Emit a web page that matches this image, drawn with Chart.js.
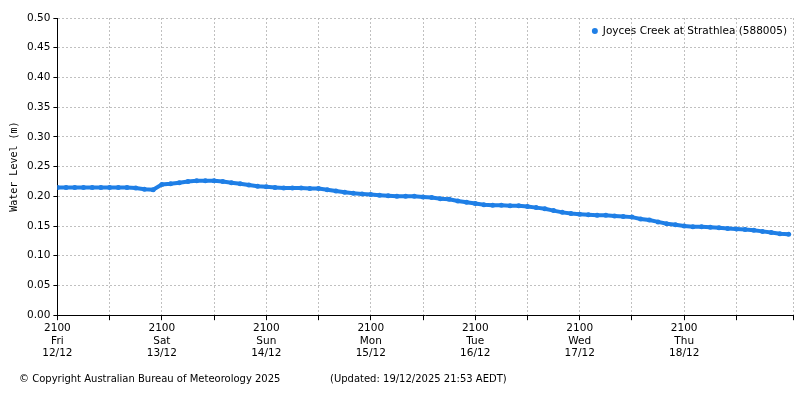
<!DOCTYPE html>
<html>
<head>
<meta charset="utf-8">
<script src="https://cdn.jsdelivr.net/npm/chart.js@4"></script>
<style>
  body { margin:0; background:#fff; }
  #wrap { position:relative; width:800px; height:400px; }
  .foot { position:absolute; top:373px; font:10px "DejaVu Sans", sans-serif; color:#000; white-space:nowrap; }
</style>
</head>
<body>
<div id="wrap">
  <canvas id="c" width="800" height="400"></canvas>
  <div class="foot" style="left:19px">© Copyright Australian Bureau of Meteorology 2025</div>
  <div class="foot" style="left:330px">(Updated: 19/12/2025 21:53 AEDT)</div>
</div>
<script>
// ========== Data (2-hourly readings from 2100 Fri 12/12) ==========
const seriesName = 'Joyces Creek at Strathlea (588005)';
const dayNames = ['Fri','Sat','Sun','Mon','Tue','Wed','Thu'];
const dayDates = ['12/12','13/12','14/12','15/12','16/12','17/12','18/12'];
const yTicks = [0,0.05,0.10,0.15,0.20,0.25,0.30,0.35,0.40,0.45,0.50];
const levels = [
  0.215,0.215,0.215,0.215,0.215,0.215,0.215,0.215,0.215,
  0.214,0.212,0.211,0.220,0.221,0.223,0.225,0.226,0.226,0.226,
  0.225,0.223,0.221,0.219,0.217,0.216,0.215,0.214,0.214,0.214,
  0.213,0.213,0.211,0.209,0.207,0.205,0.204,0.203,0.202,0.201,
  0.200,0.200,0.200,0.199,0.198,0.196,0.195,0.192,0.190,0.188,
  0.186,0.185,0.185,0.184,0.184,0.183,0.181,0.179,0.176,0.173,
  0.171,0.170,0.169,0.168,0.168,0.167,0.166,0.165,0.162,0.160,
  0.157,0.154,0.152,0.150,0.149,0.149,0.148,0.147,0.146,0.145,
  0.144,0.143,0.141,0.139,0.137,0.136
];
const hours = levels.map((v,i) => i*2);

const blue = '#1f7fe6';
const gridCol = 'rgba(185,185,185,0.9)';

const legendInside = {
  id:'legendInside',
  afterDraw(chart){
    const {ctx, chartArea} = chart;
    ctx.save();
    ctx.font = '10.5px "DejaVu Sans", sans-serif';
    ctx.fillStyle = '#000';
    ctx.textAlign = 'right';
    ctx.textBaseline = 'middle';
    const x = chartArea.right - 6, y = chartArea.top + 13;
    ctx.fillText(seriesName, x, y);
    const w = ctx.measureText(seriesName).width;
    ctx.fillStyle = blue;
    ctx.beginPath(); ctx.arc(x - w - 8, y, 3, 0, Math.PI*2); ctx.fill();
    ctx.restore();
  }
};

new Chart(document.getElementById('c'), {
  type:'line',
  data:{ datasets:[{
    label: seriesName,
    data: hours.map((h,i) => ({x:h, y:levels[i]})),
    borderColor: blue, backgroundColor: blue,
    borderWidth: 4, pointRadius: 2.5, pointBorderWidth:0
  }]},
  options:{
    responsive:false, animation:false,
    layout:{ padding:{ top:18, right:7, bottom:38, left:4 } },
    plugins:{ legend:{ display:false }, tooltip:{ enabled:false } },
    scales:{
      x:{
        type:'linear', min:0, max:169,
        ticks:{
          stepSize:12, autoSkip:false, maxRotation:0, color:'#000',
          font:{ family:'DejaVu Sans', size:10.5 }, padding:2,
          callback(v){
            if (v % 24 !== 0 || v/24 > 6) return '';
            const d = v/24;
            return ['2100', dayNames[d], dayDates[d]];
          }
        },
        grid:{ color:gridCol, tickColor:'#000', tickLength:5 },
        border:{ color:'#000', dash:[2,2] }
      },
      y:{
        min:0, max:0.5,
        afterBuildTicks(axis){ axis.ticks = yTicks.map(v => ({value:v})); },
        ticks:{ color:'#000', font:{ family:'DejaVu Sans', size:10.5 }, callback:v => v.toFixed(2) },
        grid:{ color:gridCol, tickColor:'#000', tickLength:4 },
        border:{ color:'#000', dash:[2,2] },
        title:{ display:true, text:'Water Level (m)', color:'#000', font:{ family:'DejaVu Sans Mono', size:10 } }
      }
    }
  },
  plugins:[legendInside]
});
</script>
</body>
</html>
